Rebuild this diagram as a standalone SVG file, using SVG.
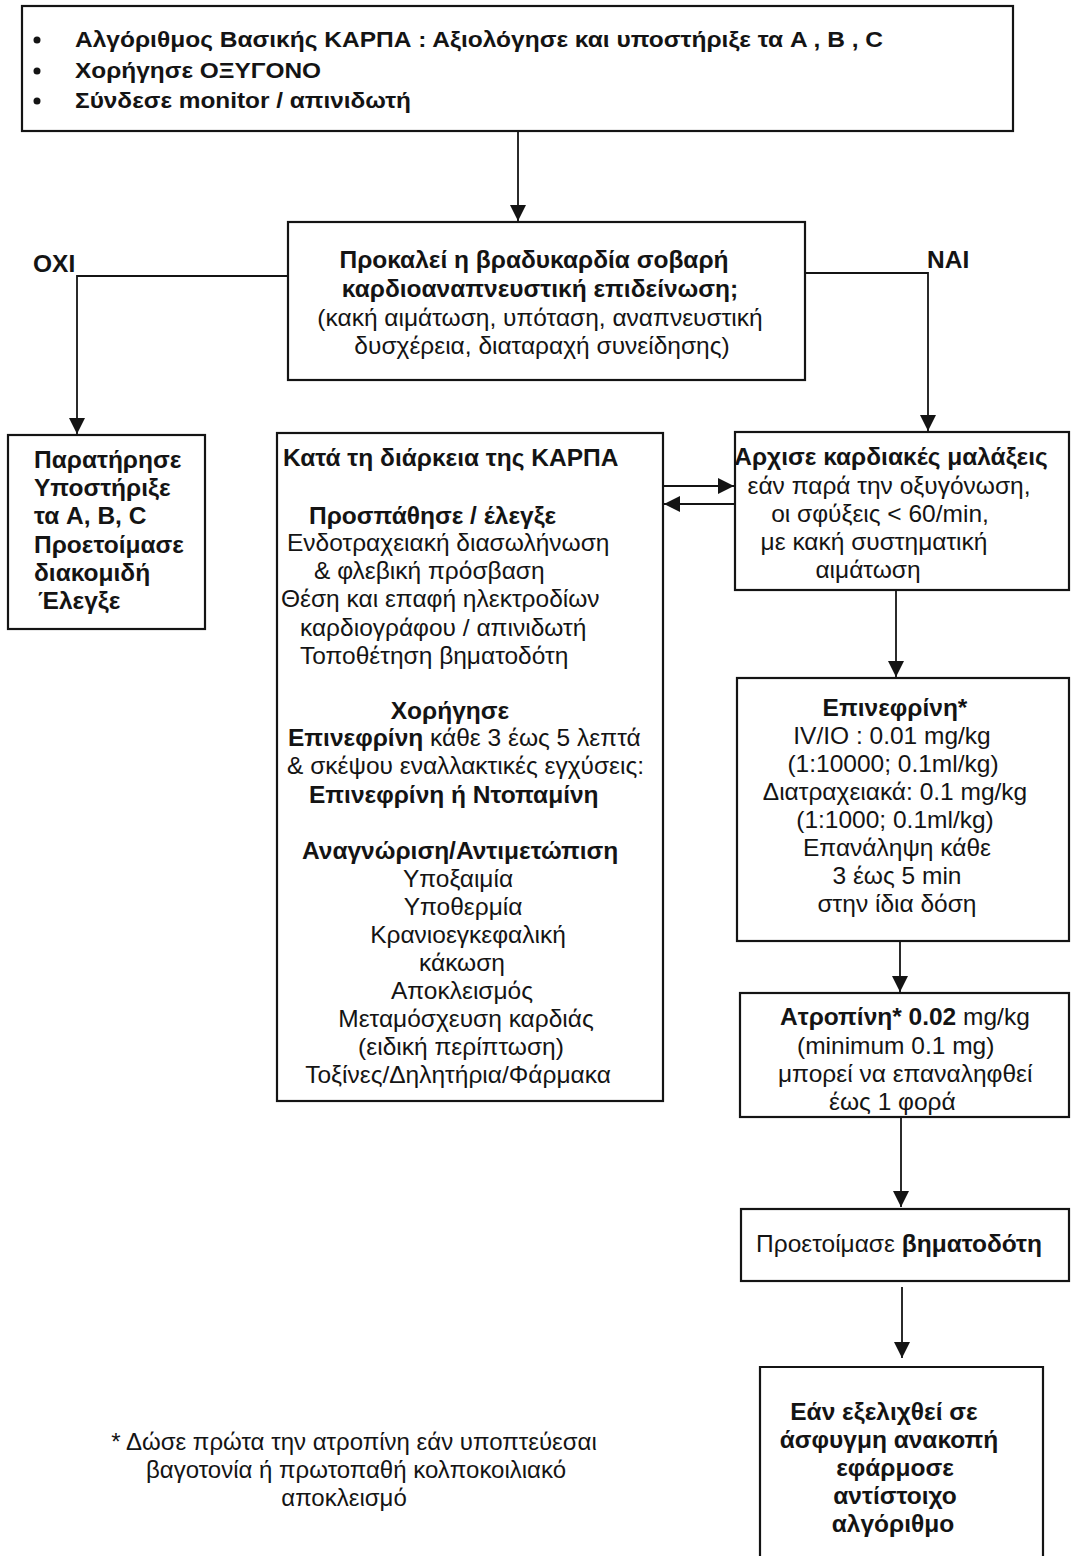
<svg xmlns="http://www.w3.org/2000/svg" width="1071" height="1556" viewBox="0 0 1071 1556">
  <style>
    .box { fill: #ffffff; stroke: #141414; stroke-width: 2.2; }
    .wire { fill: none; stroke: #141414; stroke-width: 1.8; }
    text { font-family: "Liberation Sans", Arial, sans-serif; font-size: 24.5px; fill: #141414; }
    .b { font-weight: bold; }
    .c { text-anchor: middle; }
    .top { font-size: 22px; font-weight: bold; }
    .note { font-size: 24px; }
  </style>
  <defs>
    <marker id="arrow" viewBox="0 0 16 16" refX="16" refY="8" markerWidth="16" markerHeight="16" markerUnits="userSpaceOnUse" orient="auto">
      <path d="M0,0 L16,8 L0,16 Z" fill="#141414"/>
    </marker>
  </defs>
  <rect width="1071" height="1556" fill="#ffffff"/>

  <!-- connectors -->
  <g id="connectors">
    <line class="wire" x1="518" y1="131" x2="518" y2="221" marker-end="url(#arrow)"/>
    <polyline class="wire" points="288,276 77,276 77,434" marker-end="url(#arrow)"/>
    <polyline class="wire" points="805,273 928,273 928,431" marker-end="url(#arrow)"/>
    <line class="wire" x1="663" y1="486" x2="734" y2="486" marker-end="url(#arrow)"/>
    <line class="wire" x1="735" y1="504" x2="664" y2="504" marker-end="url(#arrow)"/>
    <line class="wire" x1="896" y1="590" x2="896" y2="677" marker-end="url(#arrow)"/>
    <line class="wire" x1="900" y1="941" x2="900" y2="992" marker-end="url(#arrow)"/>
    <line class="wire" x1="901" y1="1117" x2="901" y2="1207" marker-end="url(#arrow)"/>
    <line class="wire" x1="902" y1="1287" x2="902" y2="1358" marker-end="url(#arrow)"/>
  </g>

  <!-- branch labels -->
  <text class="b" x="33" y="272" font-size="23">ΟΧΙ</text>
  <text class="b" x="927" y="268" font-size="23">ΝΑΙ</text>

  <!-- start: basic CPR algorithm -->
  <g id="start">
    <rect class="box" x="22" y="6" width="991" height="125"/>
    <circle cx="37" cy="40" r="3.5" fill="#141414"/>
    <circle cx="37" cy="71" r="3.5" fill="#141414"/>
    <circle cx="37" cy="101" r="3.5" fill="#141414"/>
    <text class="top" x="75" y="47" textLength="808" lengthAdjust="spacingAndGlyphs">Αλγόριθμος Βασικής ΚΑΡΠΑ : Αξιολόγησε και υποστήριξε τα A , B , C</text>
    <text class="top" x="75" y="78" textLength="246" lengthAdjust="spacingAndGlyphs">Χορήγησε ΟΞΥΓΟΝΟ</text>
    <text class="top" x="75" y="108" textLength="336" lengthAdjust="spacingAndGlyphs">Σύνδεσε monitor / απινιδωτή</text>
  </g>

  <!-- decision -->
  <g id="decision">
    <rect class="box" x="288" y="222" width="517" height="158"/>
    <text class="b c" x="534" y="268">Προκαλεί η βραδυκαρδία σοβαρή</text>
    <text class="b c" x="540" y="297">καρδιοαναπνευστική επιδείνωση;</text>
    <text class="c" x="540" y="326">(κακή αιμάτωση, υπόταση, αναπνευστική</text>
    <text class="c" x="542" y="354">δυσχέρεια, διαταραχή συνείδησης)</text>
  </g>

  <!-- no: observe -->
  <g id="observe">
    <rect class="box" x="8" y="435" width="197" height="194"/>
    <text class="b" x="34" y="468">Παρατήρησε</text>
    <text class="b" x="34" y="496">Υποστήριξε</text>
    <text class="b" x="34" y="524">τα A, B, C</text>
    <text class="b" x="34" y="553">Προετοίμασε</text>
    <text class="b" x="34" y="581">διακομιδή</text>
    <text class="b" x="38" y="609">Έλεγξε</text>
  </g>

  <!-- during CPR -->
  <g id="during-cpr">
    <rect class="box" x="277" y="433" width="386" height="668"/>
    <text class="b" x="283" y="466">Κατά τη διάρκεια της ΚΑΡΠΑ</text>
    <text class="b" x="309" y="524">Προσπάθησε / έλεγξε</text>
    <text x="287" y="551">Ενδοτραχειακή διασωλήνωση</text>
    <text x="314" y="579">&amp; φλεβική πρόσβαση</text>
    <text x="281" y="607">Θέση και επαφή ηλεκτροδίων</text>
    <text x="300" y="636">καρδιογράφου / απινιδωτή</text>
    <text x="300" y="664">Τοποθέτηση βηματοδότη</text>
    <text class="b c" x="450" y="719">Χορήγησε</text>
    <text x="288" y="746"><tspan class="b">Επινεφρίνη</tspan> κάθε 3 έως 5 λεπτά</text>
    <text x="287" y="774">&amp; σκέψου εναλλακτικές εγχύσεις:</text>
    <text class="b" x="309" y="803">Επινεφρίνη ή Ντοπαμίνη</text>
    <text class="b" x="302" y="859">Αναγνώριση/Αντιμετώπιση</text>
    <text class="c" x="458" y="887">Υποξαιμία</text>
    <text class="c" x="463" y="915">Υποθερμία</text>
    <text class="c" x="468" y="943">Κρανιοεγκεφαλική</text>
    <text class="c" x="462" y="971">κάκωση</text>
    <text class="c" x="462" y="999">Αποκλεισμός</text>
    <text class="c" x="466" y="1027">Μεταμόσχευση καρδιάς</text>
    <text class="c" x="461" y="1055">(ειδική περίπτωση)</text>
    <text class="c" x="458" y="1083">Τοξίνες/Δηλητήρια/Φάρμακα</text>
  </g>

  <!-- yes: chest compressions -->
  <g id="compressions">
    <rect class="box" x="735" y="432" width="334" height="158"/>
    <text class="b c" x="891" y="465">Αρχισε καρδιακές μαλάξεις</text>
    <text class="c" x="889" y="494">εάν παρά την οξυγόνωση,</text>
    <text class="c" x="880" y="522">οι σφύξεις &lt; 60/min,</text>
    <text class="c" x="874" y="550">με κακή συστηματική</text>
    <text class="c" x="868" y="578">αιμάτωση</text>
  </g>

  <!-- epinephrine -->
  <g id="epinephrine">
    <rect class="box" x="737" y="678" width="332" height="263"/>
    <text class="b c" x="895" y="716">Επινεφρίνη*</text>
    <text class="c" x="892" y="744">IV/IO : 0.01 mg/kg</text>
    <text class="c" x="893" y="772">(1:10000; 0.1ml/kg)</text>
    <text class="c" x="895" y="800">Διατραχειακά: 0.1 mg/kg</text>
    <text class="c" x="895" y="828">(1:1000; 0.1ml/kg)</text>
    <text class="c" x="897" y="856">Επανάληψη κάθε</text>
    <text class="c" x="897" y="884">3 έως 5 min</text>
    <text class="c" x="897" y="912">στην ίδια δόση</text>
  </g>

  <!-- atropine -->
  <g id="atropine">
    <rect class="box" x="740" y="993" width="329" height="124"/>
    <text x="780" y="1025"><tspan class="b">Ατροπίνη* 0.02</tspan> mg/kg</text>
    <text x="797" y="1054">(minimum 0.1 mg)</text>
    <text x="778" y="1082">μπορεί να επαναληφθεί</text>
    <text x="829" y="1110">έως 1 φορά</text>
  </g>

  <!-- pacing -->
  <g id="pacing">
    <rect class="box" x="741" y="1209" width="328" height="72"/>
    <text x="756" y="1252">Προετοίμασε <tspan class="b">βηματοδότη</tspan></text>
  </g>

  <!-- pulseless arrest -->
  <g id="arrest">
    <path class="wire" style="stroke-width:2.2" d="M760,1560 L760,1367 L1043,1367 L1043,1560"/>
    <text class="b c" x="884" y="1420">Εάν εξελιχθεί σε</text>
    <text class="b c" x="889" y="1448">άσφυγμη ανακοπή</text>
    <text class="b c" x="895" y="1476">εφάρμοσε</text>
    <text class="b c" x="895" y="1504">αντίστοιχο</text>
    <text class="b c" x="893" y="1532">αλγόριθμο</text>
  </g>

  <!-- footnote -->
  <g id="footnote">
    <text class="note c" x="354" y="1450">* Δώσε πρώτα την ατροπίνη εάν υποπτεύεσαι</text>
    <text class="note c" x="356" y="1478">βαγοτονία ή πρωτοπαθή κολποκοιλιακό</text>
    <text class="note c" x="344" y="1506">αποκλεισμό</text>
  </g>
</svg>
